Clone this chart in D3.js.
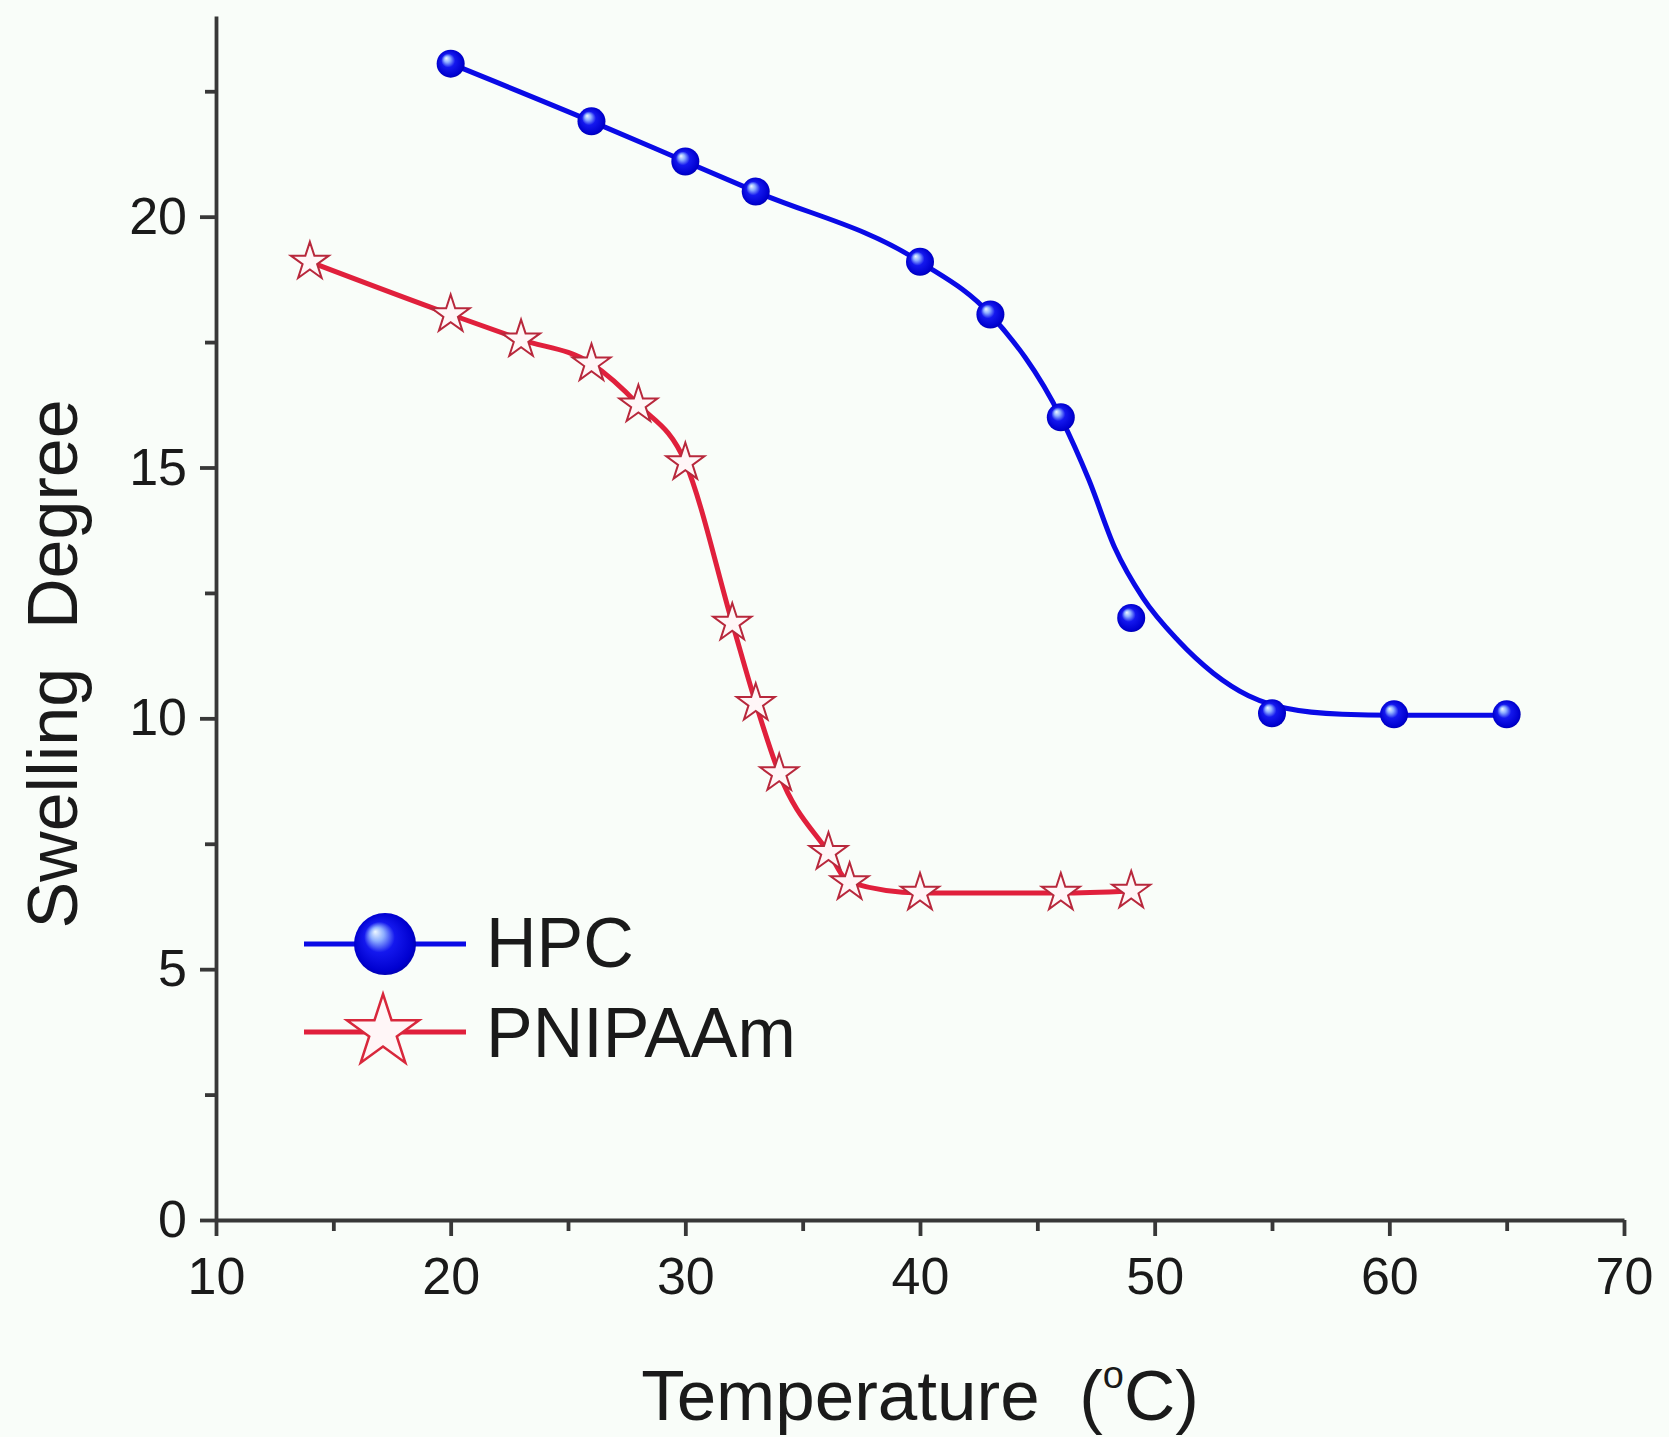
<!DOCTYPE html>
<html>
<head>
<meta charset="utf-8">
<script src="https://cdn.jsdelivr.net/npm/d3@7"></script>
<style>
  html, body { margin: 0; padding: 0; background: #f9fdf9; }
  svg { display: block; }
  text { font-family: "Liberation Sans", Arial, sans-serif; fill: #1a1a1a; }
</style>
</head>
<body>
<svg id="chart" width="1669" height="1437"></svg>
<script>
// Swelling degree of the two hydrogels versus temperature
const hpcTemp        = [20, 26, 30, 33, 40, 43, 46, 49, 55, 60.2, 65];
const hpcSwelling    = [23.05, 21.9, 21.1, 20.5, 19.1, 18.05, 16.0, 12.0, 10.1, 10.08, 10.08];

// smooth fitted curve through the HPC data
const hpcFitTemp     = [20, 26, 30, 33, 40, 43, 46, 47.2, 48.3, 49.5, 51, 52.5, 54, 55.6, 58, 60.2, 65];
const hpcFitSwelling = [23.05, 21.9, 21.1, 20.5, 19.1, 18.05, 16.0, 14.75, 13.4, 12.4, 11.55, 10.9, 10.45, 10.2, 10.08, 10.06, 10.06];

const pnTemp         = [14, 20, 23, 26, 28, 30, 32, 33, 34, 36.1, 37, 40, 46, 49];
const pnSwelling     = [19.1, 18.05, 17.55, 17.07, 16.25, 15.1, 11.9, 10.3, 8.9, 7.33, 6.73, 6.52, 6.52, 6.56];

const xMajorTicks = [10, 20, 30, 40, 50, 60, 70];
const xMinorTicks = [15, 25, 35, 45, 55, 65];
const yMajorTicks = [0, 5, 10, 15, 20];
const yMinorTicks = [2.5, 7.5, 12.5, 17.5, 22.5];

const seriesNames = ["HPC", "PNIPAAm"];

const svg = d3.select("#chart");

const x = d3.scaleLinear().domain([10, 70]).range([216, 1624]);
const y = d3.scaleLinear().domain([0, 24]).range([1220, 16]);

const axisColor = "#383838";
const blue = "#0a0ae6";
const red = "#e0203c";

// sphere shading for the HPC markers
const defs = svg.append("defs");
const grad = defs.append("radialGradient")
  .attr("id", "ball").attr("cx", "0.5").attr("cy", "0.5").attr("r", "0.55")
  .attr("fx", "0.34").attr("fy", "0.3");
grad.append("stop").attr("offset", "0%").attr("stop-color", "#eef8ff");
grad.append("stop").attr("offset", "20%").attr("stop-color", "#8fb0ff");
grad.append("stop").attr("offset", "45%").attr("stop-color", "#1418ee");
grad.append("stop").attr("offset", "85%").attr("stop-color", "#0000d0");
grad.append("stop").attr("offset", "100%").attr("stop-color", "#0000a0");

// axes
function styleAxis(g) {
  g.selectAll("path, line").attr("stroke", axisColor).attr("stroke-width", 3.8);
  g.selectAll("text").style("font-family", '"Liberation Sans", Arial, sans-serif')
    .style("font-size", "52px").attr("fill", "#1a1a1a");
}

svg.append("g").attr("transform", `translate(0,${y(0)})`)
  .call(d3.axisBottom(x).tickValues(xMinorTicks).tickSize(11).tickSizeOuter(0).tickFormat(""))
  .call(g => g.select(".domain").remove())
  .call(styleAxis);

svg.append("g").attr("transform", `translate(${x(10)},0)`)
  .call(d3.axisLeft(y).tickValues(yMinorTicks).tickSize(11).tickSizeOuter(0).tickFormat(""))
  .call(g => g.select(".domain").remove())
  .call(styleAxis);

svg.append("g").attr("transform", `translate(0,${y(0)})`)
  .call(d3.axisBottom(x).tickValues(xMajorTicks).tickSize(16).tickSizeOuter(0).tickPadding(21).tickFormat(d3.format("d")))
  .call(styleAxis);

svg.append("g").attr("transform", `translate(${x(10)},0)`)
  .call(d3.axisLeft(y).tickValues(yMajorTicks).tickSize(16).tickSizeOuter(0).tickPadding(13).tickFormat(d3.format("d")))
  .call(styleAxis);

// axis titles
svg.append("text")
  .attr("x", 920).attr("y", 1420)
  .attr("text-anchor", "middle")
  .style("font-size", "71px").style("white-space", "pre")
  .call(t => {
    t.append("tspan").text("Temperature  (");
    t.append("tspan").attr("dy", -32).style("font-size", "38px").text("o");
    t.append("tspan").attr("dy", 32).text("C)");
  });

svg.append("text")
  .attr("transform", "translate(77,664) rotate(-90)")
  .attr("text-anchor", "middle")
  .style("font-size", "70px").style("white-space", "pre")
  .text("Swelling  Degree");

// lines
const hpcFit = hpcFitTemp.map((t, i) => [t, hpcFitSwelling[i]]);
const pnData = pnTemp.map((t, i) => [t, pnSwelling[i]]);
const hpcData = hpcTemp.map((t, i) => [t, hpcSwelling[i]]);

const line = d3.line().x(d => x(d[0])).y(d => y(d[1])).curve(d3.curveMonotoneX);

svg.append("path").datum(hpcFit)
  .attr("d", line).attr("fill", "none")
  .attr("stroke", blue).attr("stroke-width", 5);

svg.append("path").datum(pnData)
  .attr("d", line).attr("fill", "none")
  .attr("stroke", red).attr("stroke-width", 5);

// markers
const starR = 20;
const star = d3.symbol().type(d3.symbolStar).size(starR * starR / 0.8908130915292852);

svg.append("g").selectAll("path").data(pnData).join("path")
  .attr("transform", d => `translate(${x(d[0])},${y(d[1])})`)
  .attr("d", star)
  .attr("fill", "#fff6f7").attr("stroke", "#b8283c").attr("stroke-width", 2);

svg.append("g").selectAll("circle").data(hpcData).join("circle")
  .attr("cx", d => x(d[0])).attr("cy", d => y(d[1])).attr("r", 14)
  .attr("fill", "url(#ball)");

// legend
const legend = svg.append("g");
const legendRows = [
  { name: seriesNames[0], color: blue, y: 944 },
  { name: seriesNames[1], color: red, y: 1032 }
];
legendRows.forEach((row, i) => {
  legend.append("line")
    .attr("x1", 304).attr("x2", 466).attr("y1", row.y).attr("y2", row.y)
    .attr("stroke", row.color).attr("stroke-width", 5);
  if (i === 0) {
    legend.append("circle").attr("cx", 385).attr("cy", row.y).attr("r", 31)
      .attr("fill", "url(#ball)");
  } else {
    const R = 38;
    legend.append("path")
      .attr("transform", `translate(383,${row.y})`)
      .attr("d", d3.symbol().type(d3.symbolStar).size(R * R / 0.8908130915292852))
      .attr("fill", "#fff6f7").attr("stroke", "#d8283c").attr("stroke-width", 2.5);
  }
  legend.append("text")
    .attr("x", 486).attr("y", row.y + 23 + i * 2)
    .style("font-size", "70px")
    .text(row.name);
});
</script>
</body>
</html>
